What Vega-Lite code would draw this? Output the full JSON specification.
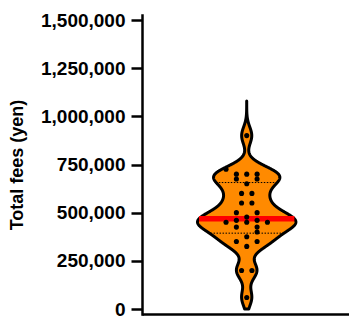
{
  "$schema": "https://vega.github.io/schema/vega-lite/v6.json",
  "autosize": "none",
  "width": 207,
  "height": 299,
  "padding": {"left": 142, "top": 15, "right": 0, "bottom": 10},
  "background": "white",
  "config": {
    "view": {"stroke": null},
    "font": "Liberation Sans",
    "axis": {"grid": false}
  },
  "datasets": {
    "fees": [
      {"fees": 900000, "lane": 0},
      {"fees": 725000, "lane": -2},
      {"fees": 700000, "lane": -1},
      {"fees": 700000, "lane": 0},
      {"fees": 700000, "lane": 1},
      {"fees": 675000, "lane": -1},
      {"fees": 675000, "lane": 1},
      {"fees": 650000, "lane": 0},
      {"fees": 600000, "lane": -0.5},
      {"fees": 600000, "lane": 0.5},
      {"fees": 550000, "lane": -0.5},
      {"fees": 550000, "lane": 0.5},
      {"fees": 500000, "lane": -1},
      {"fees": 500000, "lane": 1},
      {"fees": 477000, "lane": 0},
      {"fees": 460000, "lane": -1},
      {"fees": 460000, "lane": 1},
      {"fees": 450000, "lane": -2},
      {"fees": 450000, "lane": 0},
      {"fees": 450000, "lane": 2},
      {"fees": 425000, "lane": -1},
      {"fees": 425000, "lane": 1},
      {"fees": 400000, "lane": 1},
      {"fees": 375000, "lane": 0},
      {"fees": 350000, "lane": -1},
      {"fees": 350000, "lane": 1},
      {"fees": 325000, "lane": 0},
      {"fees": 200000, "lane": -0.5},
      {"fees": 200000, "lane": 0.5},
      {"fees": 60000, "lane": 0}
    ]
  },
  "data": {"name": "fees"},
  "resolve": {"scale": {"x": "independent"}, "axis": {"x": "independent"}},
  "encoding": {
    "y": {
      "field": "fees",
      "type": "quantitative",
      "scale": {"domain": [0, 1500000], "nice": false, "zero": true},
      "axis": {
        "title": "Total fees (yen)",
        "values": [0, 250000, 500000, 750000, 1000000, 1250000, 1500000],
        "format": ",d",
        "labelFont": "Liberation Sans",
        "labelFontSize": 19,
        "labelFontWeight": "bold",
        "labelColor": "black",
        "labelPadding": 6,
        "labelFlush": false,
        "titleFont": "Liberation Sans",
        "titleFontSize": 18,
        "titleFontWeight": "bold",
        "titleColor": "black",
        "titlePadding": 14,
        "domainColor": "black",
        "domainWidth": 2.5,
        "tickColor": "black",
        "tickWidth": 2.5,
        "tickSize": 11,
        "domainCap": "square"
      }
    }
  },
  "layer": [
    {
      "transform": [
        {"density": "fees", "bandwidth": 45000, "extent": [0, 1080000], "steps": 1081, "as": ["fees", "density"]}
      ],
      "mark": {"type": "area", "orient": "horizontal", "color": "#ff8a00", "stroke": "black", "strokeWidth": 3, "strokeJoin": "round"},
      "encoding": {
        "x": {
          "field": "density",
          "type": "quantitative",
          "stack": "center",
          "impute": null,
          "scale": {"range": [55.5, 153.9], "nice": false},
          "axis": null
        }
      }
    },
    {
      "transform": [
        {"window": [{"op": "row_number", "as": "r"}, {"op": "lead", "field": "fees", "as": "nxt"}], "sort": [{"field": "fees", "order": "ascending"}]},
        {"joinaggregate": [{"op": "count", "as": "n"}]},
        {"calculate": "floor((datum.n + 1) * 0.25) == datum.r ? datum.fees + ((datum.n + 1) * 0.25 - datum.r) * (datum.nxt - datum.fees) : null", "as": "q1p"},
        {"calculate": "floor((datum.n + 1) * 0.75) == datum.r ? datum.fees + ((datum.n + 1) * 0.75 - datum.r) * (datum.nxt - datum.fees) : null", "as": "q3p"},
        {"joinaggregate": [{"op": "max", "field": "q1p", "as": "Q1"}, {"op": "max", "field": "q3p", "as": "Q3"}]},
        {"density": "fees", "groupby": ["Q1", "Q3"], "bandwidth": 45000, "extent": [0, 1080000], "steps": 1081, "as": ["fees", "density"]},
        {"joinaggregate": [{"op": "max", "field": "density", "as": "dmax"}]},
        {"filter": "datum.density == datum.dmax || abs(datum.fees - datum.Q1) < 500 || abs(datum.fees - datum.Q3) < 500"}
      ],
      "mark": {"type": "rule", "orient": "horizontal", "color": "black", "strokeWidth": 1, "strokeDash": [1.5, 1.5]},
      "encoding": {
        "x": {
          "field": "density",
          "type": "quantitative",
          "stack": "center",
          "scale": {"range": [55.5, 153.9], "nice": false},
          "axis": null
        },
        "strokeOpacity": {"condition": {"test": "datum.density == datum.dmax", "value": 0}, "value": 1}
      }
    },
    {
      "transform": [
        {"joinaggregate": [{"op": "median", "field": "fees", "as": "med"}]},
        {"density": "fees", "groupby": ["med"], "bandwidth": 45000, "extent": [0, 1080000], "steps": 1081, "as": ["fees", "density"]},
        {"joinaggregate": [{"op": "max", "field": "density", "as": "dmax"}]},
        {"filter": "datum.density == datum.dmax || abs(datum.fees - datum.med) < 500"}
      ],
      "mark": {"type": "bar", "orient": "horizontal", "color": "#ff0000", "height": 5.5},
      "encoding": {
        "x": {
          "field": "density",
          "type": "quantitative",
          "stack": "center",
          "scale": {"range": [55.5, 153.9], "nice": false},
          "axis": null
        },
        "opacity": {"condition": {"test": "datum.density == datum.dmax && abs(datum.fees - datum.med) >= 500", "value": 0}, "value": 1}
      }
    },
    {
      "mark": {"type": "circle", "color": "black", "opacity": 1, "size": 26},
      "encoding": {
        "x": {
          "field": "lane",
          "type": "quantitative",
          "scale": {"domain": [-10.12, 9.88], "nice": false, "zero": false},
          "axis": {"title": null, "labels": false, "ticks": false, "grid": false, "domainColor": "black", "domainWidth": 2.5, "orient": "bottom"}
        }
      }
    }
  ]
}
